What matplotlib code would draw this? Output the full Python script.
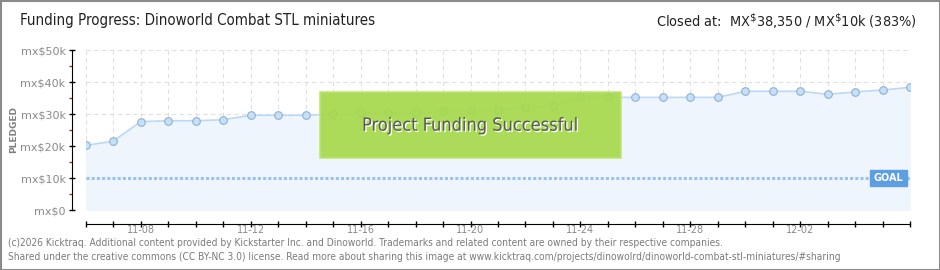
import datetime as dt

import matplotlib
matplotlib.use("Agg")
from matplotlib import pyplot as plt
from matplotlib import patheffects as pe
from matplotlib.patches import Rectangle
from matplotlib.ticker import FixedLocator, MultipleLocator, FuncFormatter

# data (daily pledged totals, MX$)
start = dt.date(2023, 11, 6)
pledged = [20200, 21500, 27600, 27900, 27900, 28200, 29600, 29600, 29600,
           30000, 30200, 30200, 30200, 30800, 31250, 31250, 32300, 32500,
           35200, 35200, 35200, 35200, 35200, 35200, 37100, 37100, 37100,
           36150, 36900, 37500, 38350]
goal = 10000
days = list(range(len(pledged)))
labels = [(start + dt.timedelta(d)).strftime("%m-%d") for d in days]
label_days = days[2:29:4]

title = "Funding Progress: Dinoworld Combat STL miniatures"
closed = r"Closed at:  MX$^{\$}$38,350 / MX$^{\$}$10k (383%)"
footer = ["(c)2026 Kicktraq. Additional content provided by Kickstarter Inc. and Dinoworld. "
          "Trademarks and related content are owned by their respective companies.",
          "Shared under the creative commons (CC BY-NC 3.0) license. Read more about sharing "
          "this image at www.kicktraq.com/projects/dinowolrd/dinoworld-combat-stl-miniatures/#sharing"]

plt.rcParams["font.family"] = ["DejaVu Sans"]
COND = "condensed"

fig = plt.figure(figsize=(9.4, 2.7), dpi=100)
fig.patch.set_facecolor("white")
fig.add_artist(Rectangle((0, 0), 1, 1, transform=fig.transFigure, fill=False,
                         ec="#8a8a8a", lw=2.2))

ax = fig.add_axes([85.7 / 940, 60 / 270, 824.6 / 940, 160 / 270])
ax.set_xlim(0, days[-1])
ax.set_ylim(0, 50000)

# dashed grid, one vertical per day
for d in days:
    ax.axvline(d, color="#e0e0e0", lw=0.8, ls=(0, (4, 3)), zorder=0)
for v in range(10000, 50001, 10000):
    ax.axhline(v, color="#e0e0e0", lw=0.8, ls=(0, (4, 3)), zorder=0)

ax.fill_between(days, pledged, 0, color="#eef5fd", zorder=1)
ax.plot(days, pledged, color="#bcd8f5", lw=1.2, marker="o", ms=5.5,
        mfc="#c6e0f9", mec="#8fb0d4", mew=0.8, zorder=3)

ax.axhline(goal, color="#9dc2ea", lw=2.2, ls=(0, (1, 0.7)), zorder=2)
ax.annotate("GOAL", xy=(days[-1], goal), xytext=(-7, 0), textcoords="offset pixels",
            ha="right", va="center", color="white", fontsize=7, fontweight="bold",
            bbox=dict(boxstyle="square,pad=0.35", fc="#5c9ee0", ec="#5c9ee0"), zorder=5)

# success banner
ax.add_patch(Rectangle((0.284, 0.323), 0.365, 0.413, transform=ax.transAxes,
                       fc="#a6d94c", ec="#bde66f", lw=1.2, alpha=0.93, zorder=4))
ax.text(0.466, 0.527, "Project Funding Successful", transform=ax.transAxes,
        ha="center", va="center", fontsize=13, color="#5a5a5a", zorder=6,
        fontstretch=COND,
        path_effects=[pe.withSimplePatchShadow(offset=(1, -1), shadow_rgbFace="white", alpha=1)])

# axes styling
for s in ("top", "right"):
    ax.spines[s].set_visible(False)
ax.spines["left"].set_position(("outward", 10))
ax.spines["bottom"].set_position(("outward", 10))
ax.spines["bottom"].set_bounds(0, days[-1])
ax.spines["left"].set_bounds(0, 50000)

ax.yaxis.set_major_locator(MultipleLocator(10000))
ax.yaxis.set_minor_locator(MultipleLocator(5000))
ax.yaxis.set_major_formatter(FuncFormatter(lambda v, p: "mx$%dk" % (v // 1000) if v else "mx$0"))
ax.tick_params(axis="y", which="major", direction="inout", length=5, width=1,
               labelsize=8, labelcolor="#8a8a8a", pad=2)
ax.tick_params(axis="y", which="minor", direction="out", length=2.5, width=1, color="#d02020")

ax.xaxis.set_major_locator(FixedLocator(label_days))
ax.xaxis.set_minor_locator(FixedLocator(days))
ax.set_xticklabels([labels[d] for d in label_days])
ax.tick_params(axis="x", which="both", direction="inout", length=4, width=1)
ax.tick_params(axis="x", which="major", labelsize=7, labelcolor="#8a8a8a", pad=-1)

fig.text(14 / 940, 1 - 130 / 270, "PLEDGED", rotation=90, ha="center", va="center",
         fontsize=6.5, color="#808080", fontweight="bold")

fig.text(20 / 940, 1 - 21 / 270, title, ha="left", va="center", fontsize=10.8,
         color="#222222", fontstretch=COND)
fig.text(917 / 940, 1 - 21 / 270, closed, ha="right", va="center", fontsize=10.4,
         color="#222222", fontstretch=COND)

fig.text(8 / 940, 1 - 243 / 270, footer[0], ha="left", va="center", fontsize=7.3,
         color="#7a7a7a", fontstretch=COND)
fig.text(8 / 940, 1 - 257 / 270, footer[1], ha="left", va="center", fontsize=7.3,
         color="#7a7a7a", fontstretch=COND)

fig.savefig("out.png", dpi=100, facecolor="white")
